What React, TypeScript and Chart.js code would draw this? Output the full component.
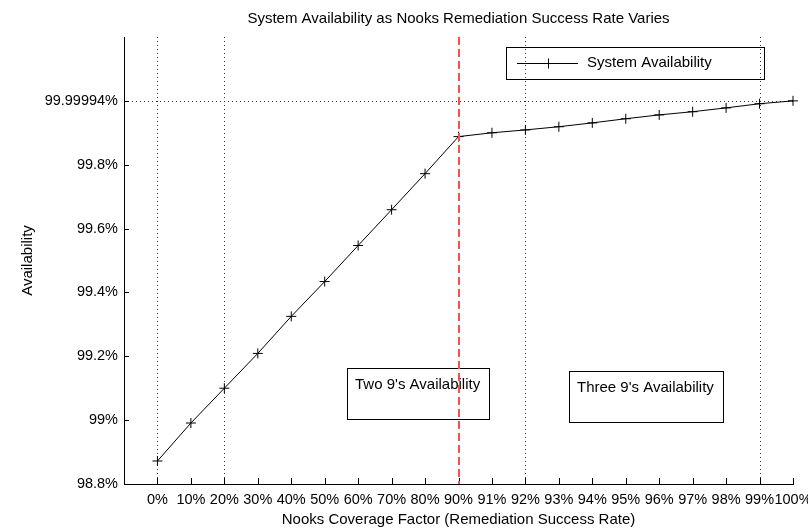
import React, { useEffect, useRef } from "react";
import { Chart, registerables } from "chart.js";

Chart.register(...registerables);

// ---- data ----
const categories = [
  "0%", "10%", "20%", "30%", "40%", "50%", "60%", "70%", "80%", "90%",
  "91%", "92%", "93%", "94%", "95%", "96%", "97%", "98%", "99%", "100%",
];
const availability = [
  98.872, 98.991, 99.1, 99.209, 99.325, 99.434, 99.547, 99.659, 99.772, 99.888,
  99.9, 99.909, 99.919, 99.931, 99.944, 99.956, 99.966, 99.978, 99.991, 100.0,
];
const yTickValues = [98.8, 99, 99.2, 99.4, 99.6, 99.8, 100];
const yTickLabels = ["98.8%", "99%", "99.2%", "99.4%", "99.6%", "99.8%", "99.99994%"];
const gridXIndices = [0, 2, 11, 18];
const gridYValues = [100];
const thresholdIndex = 9;
const annotationTexts = ["Two 9's Availability", "Three 9's Availability"];
const seriesLabel = "System Availability";
const titleText = "System Availability as Nooks Remediation Success Rate Varies";
const xTitle = "Nooks Coverage Factor (Remediation Success Rate)";
const yTitle = "Availability";

const FONT = '"Liberation Sans", Arial, "DejaVu Sans", sans-serif';

function drawCross(ctx: CanvasRenderingContext2D, x: number, y: number, r: number) {
  ctx.beginPath();
  ctx.moveTo(x - r, y);
  ctx.lineTo(x + r, y);
  ctx.moveTo(x, y - r);
  ctx.lineTo(x, y + r);
  ctx.stroke();
}

const decorPlugin = {
  id: "decor",
  beforeDatasetsDraw(chart: any) {
    const { ctx, chartArea: a, scales } = chart;
    const x = scales.x;
    const y = scales.y;
    ctx.save();
    ctx.strokeStyle = "#333";
    ctx.lineWidth = 1;
    ctx.setLineDash([1, 3]);
    for (const i of gridXIndices) {
      const px = Math.round(x.getPixelForValue(i)) + 0.5;
      ctx.beginPath();
      ctx.moveTo(px, a.top);
      ctx.lineTo(px, a.bottom);
      ctx.stroke();
    }
    for (const v of gridYValues) {
      const py = Math.round(y.getPixelForValue(v)) + 0.5;
      ctx.beginPath();
      ctx.moveTo(a.left, py);
      ctx.lineTo(a.right, py);
      ctx.stroke();
    }
    ctx.setLineDash([]);
    ctx.strokeStyle = "#000";
    for (const t of x.ticks) {
      const px = Math.round(x.getPixelForValue(t.value)) + 0.5;
      ctx.beginPath();
      ctx.moveTo(px, a.bottom);
      ctx.lineTo(px, a.bottom - 6);
      ctx.stroke();
    }
    for (const t of y.ticks) {
      const py = Math.round(y.getPixelForValue(t.value)) + 0.5;
      ctx.beginPath();
      ctx.moveTo(a.left, py);
      ctx.lineTo(a.left + 5, py);
      ctx.stroke();
    }
    ctx.restore();
  },
  afterDatasetsDraw(chart: any) {
    const { ctx, chartArea: a, scales } = chart;
    const x = scales.x;
    ctx.save();
    // annotation boxes
    const boxes = [
      { l: 347, t: 368, r: 489, b: 419 },
      { l: 569, t: 371, r: 723, b: 422 },
    ];
    ctx.strokeStyle = "#000";
    ctx.lineWidth = 1;
    ctx.fillStyle = "#000";
    ctx.font = `15px ${FONT}`;
    ctx.textAlign = "left";
    ctx.textBaseline = "middle";
    boxes.forEach((bx, i) => {
      ctx.strokeRect(bx.l + 0.5, bx.t + 0.5, bx.r - bx.l, bx.b - bx.t);
      ctx.fillText(annotationTexts[i], bx.l + 8, bx.t + 17);
    });
    // threshold dashed red line
    const tx = Math.round(x.getPixelForValue(thresholdIndex));
    ctx.strokeStyle = "rgb(255,75,75)";
    ctx.lineWidth = 2;
    ctx.setLineDash([8, 4]);
    ctx.beginPath();
    ctx.moveTo(tx, a.top);
    ctx.lineTo(tx, a.bottom);
    ctx.stroke();
    ctx.setLineDash([]);
    // legend
    ctx.strokeStyle = "#000";
    ctx.lineWidth = 1;
    ctx.strokeRect(506.5, 47.5, 258, 32);
    ctx.beginPath();
    ctx.moveTo(517, 63.5);
    ctx.lineTo(578, 63.5);
    ctx.stroke();
    drawCross(ctx, 548.5, 63.5, 5);
    ctx.fillStyle = "#000";
    ctx.fillText(chart.data.datasets[0].label, 587, 63);
    ctx.restore();
  },
  afterDraw(chart: any) {
    const { ctx, chartArea: a } = chart;
    ctx.save();
    ctx.fillStyle = "#000";
    ctx.font = `15px ${FONT}`;
    ctx.textAlign = "center";
    ctx.textBaseline = "middle";
    const cx = (a.left + a.right) / 2;
    ctx.fillText(titleText, cx, 19);
    ctx.fillText(xTitle, cx, 520);
    ctx.translate(28, (a.top + a.bottom) / 2);
    ctx.rotate(-Math.PI / 2);
    ctx.fillText(yTitle, 0, 0);
    ctx.restore();
  },
};

export default function App() {
  const ref = useRef<HTMLCanvasElement | null>(null);
  useEffect(() => {
    if (!ref.current) return;
    const chart = new Chart(ref.current, {
      type: "line",
      data: {
        datasets: [
          {
            label: seriesLabel,
            data: availability.map((v, i) => ({ x: i, y: v })),
            borderColor: "#000",
            borderWidth: 1,
            pointStyle: "cross",
            pointRadius: 5,
            pointBorderColor: "#000",
            pointBorderWidth: 1,
            pointBackgroundColor: "#000",
            fill: false,
            tension: 0,
            clip: false,
          } as any,
        ],
      },
      options: {
        animation: false,
        responsive: false,
        devicePixelRatio: 1,
        layout: { padding: { left: 0, top: 37, right: 15, bottom: 0 } },
        plugins: {
          legend: { display: false },
          title: { display: false },
          tooltip: { enabled: false },
        },
        scales: {
          x: {
            type: "linear",
            min: -1,
            max: 19,
            grid: { display: false, drawTicks: false },
            border: { display: true, color: "#000", width: 1 },
            afterBuildTicks: (scale: any) => {
              scale.ticks = categories.map((_, i) => ({ value: i }));
            },
            afterFit: (scale: any) => {
              scale.height = 46;
              scale.paddingLeft = 0;
              scale.paddingRight = 0;
            },
            ticks: {
              autoSkip: false,
              maxRotation: 0,
              minRotation: 0,
              padding: 7,
              color: "#000",
              font: { family: FONT, size: 14.5 },
              callback: (value: any) => categories[Math.round(Number(value))] ?? "",
            },
          },
          y: {
            type: "linear",
            min: 98.8,
            max: 100.2,
            grid: { display: false, drawTicks: false },
            border: { display: true, color: "#000", width: 1 },
            afterBuildTicks: (scale: any) => {
              scale.ticks = yTickValues.map((v) => ({ value: v }));
            },
            afterFit: (scale: any) => {
              scale.width = 124;
              scale.paddingTop = 0;
              scale.paddingBottom = 0;
            },
            ticks: {
              autoSkip: false,
              padding: 6,
              color: "#000",
              font: { family: FONT, size: 14.5 },
              callback: (_v: any, index: number) => yTickLabels[index],
            },
          },
        },
      } as any,
      plugins: [decorPlugin],
    });
    return () => chart.destroy();
  }, []);
  return (
    <div style={{ position: "absolute", left: 0, top: 0, width: 808, height: 530, background: "#fff" }}>
      <canvas ref={ref} width={808} height={530} style={{ display: "block" }} />
    </div>
  );
}
